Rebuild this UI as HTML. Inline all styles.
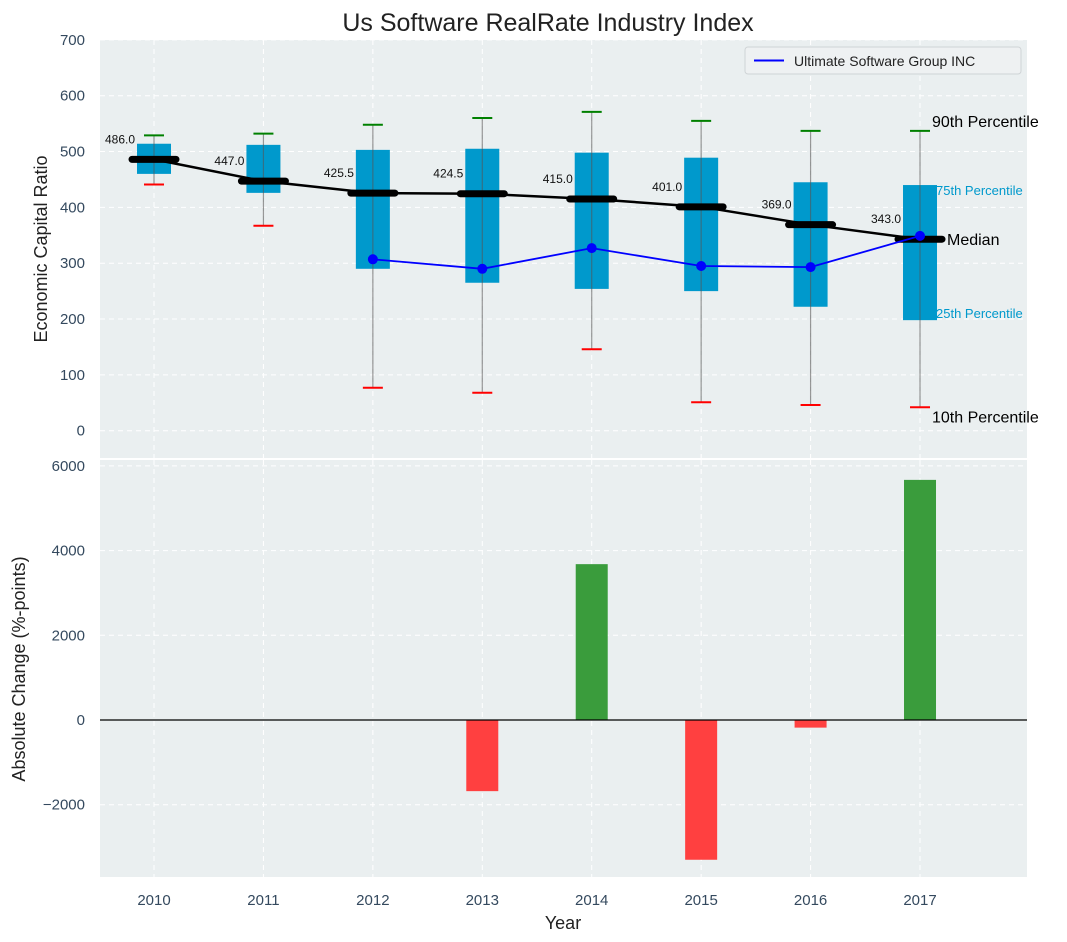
<!DOCTYPE html>
<html><head><meta charset="utf-8"><style>
body{margin:0;background:#fff;}
svg{display:block;font-family:"Liberation Sans","DejaVu Sans",sans-serif;}
</style></head><body>
<svg id="chart" width="1067" height="942" viewBox="0 0 1067 942" xmlns="http://www.w3.org/2000/svg">
<text x="548" y="31" text-anchor="middle" font-size="25" fill="#222">Us Software RealRate Industry Index</text>
<rect x="100" y="40" width="927" height="418" fill="#eaeff0"/>
<rect x="100" y="460" width="927" height="417" fill="#eaeff0"/>
<g id="gtop"></g><g id="gbot"></g>
<text transform="translate(47,249) rotate(-90)" text-anchor="middle" font-size="18" fill="#222">Economic Capital Ratio</text>
<text transform="translate(25,669) rotate(-90)" text-anchor="middle" font-size="18" fill="#222">Absolute Change (%-points)</text>
<text x="563" y="929" text-anchor="middle" font-size="18" fill="#222">Year</text>
<g>
<rect x="745" y="47" width="276" height="27" rx="3" fill="#eef1f2" stroke="#cfd4d6"/>
<line x1="754" y1="60.5" x2="784" y2="60.5" stroke="#0000ff" stroke-width="2"/>
<text x="794" y="66" font-size="14" fill="#222">Ultimate Software Group INC</text>
</g>
</svg>
<script>
const years=[2010,2011,2012,2013,2014,2015,2016,2017];
const p90=[529,532,548,560,571,555,537,537];
const p75=[514,512,503,505,498,489,445,440];
const median=[486,447,425.5,424.5,415,401,369,343];
const p25=[460,426,290,265,254,250,222,198];
const p10=[441,367,77,68,146,51,46,42];
const companyYears=[2012,2013,2014,2015,2016,2017];
const companyVals=[307,290,327,295,293,349];
const changeYears=[2013,2014,2015,2016,2017];
const changeVals=[-1680,3680,-3300,-180,5670];
const topTicks=[0,100,200,300,400,500,600,700];
const botTicks=[-2000,0,2000,4000,6000];

const NS="http://www.w3.org/2000/svg";
const X=y=>154+(y-2010)*109.43;
const YT=v=>430.7-v*0.5583;
const YB=v=>720-v*0.04235;
function mk(p,tag,a,txt){const e=document.createElementNS(NS,tag);for(const k in a)e.setAttribute(k,a[k]);if(txt!==undefined)e.textContent=txt;p.appendChild(e);return e;}
const gTop=document.getElementById('gtop'),gBot=document.getElementById('gbot');
topTicks.forEach(t=>{
 const l=mk(gTop,'line',{x1:100,x2:1027,y1:YT(t),y2:YT(t),stroke:'#fff','stroke-dasharray':'5,4','stroke-width':1});
 
 
 const tx=mk(gTop,'text',{x:85,y:YT(t)+5,'text-anchor':'end','font-size':15,fill:'#34495e'},String(t));
 
 
});
botTicks.forEach(t=>{
 const l=mk(gBot,'line',{x1:100,x2:1027,y1:YB(t),y2:YB(t),stroke:'#fff','stroke-dasharray':'5,4','stroke-width':1});
 
 
 const tx=mk(gBot,'text',{x:85,y:YB(t)+5,'text-anchor':'end','font-size':15,fill:'#34495e'},t<0?'\u2212'+(-t):String(t));
 
 
});
years.forEach(y=>{
 const l=mk(gTop,'line',{x1:X(y),x2:X(y),y1:40,y2:458,stroke:'#fff','stroke-dasharray':'5,4'});
 
 
 const l2=mk(gBot,'line',{x1:X(y),x2:X(y),y1:460,y2:877,stroke:'#fff','stroke-dasharray':'5,4'});
 
 
 const tx=mk(gBot,'text',{x:X(y),y:905,'text-anchor':'middle','font-size':15,fill:'#34495e'},String(y));
 
 
});
years.forEach((y,i)=>{
 const x=X(y);
 const b=mk(gTop,'rect',{x:x-17,y:YT(p75[i]),width:34,height:YT(p25[i])-YT(p75[i]),fill:'#0099cc'});
 
 
 const w=mk(gTop,'line',{x1:x,x2:x,y1:YT(p90[i]),y2:YT(p10[i]),stroke:'#555','stroke-opacity':0.6,'stroke-width':1.2});
 
 
 const c1=mk(gTop,'line',{x1:x-10,x2:x+10,y1:YT(p90[i]),y2:YT(p90[i]),stroke:'#008000','stroke-width':2});
 
 
 const c2=mk(gTop,'line',{x1:x-10,x2:x+10,y1:YT(p10[i]),y2:YT(p10[i]),stroke:'#ff0000','stroke-width':2});
 
 
});
const ml=mk(gTop,'polyline',{points:years.map((y,i)=>X(y)+','+YT(median[i])).join(' '),fill:'none',stroke:'#000','stroke-width':2.5});


years.forEach((y,i)=>{
 const m=mk(gTop,'line',{x1:X(y)-22,x2:X(y)+22,y1:YT(median[i]),y2:YT(median[i]),stroke:'#000','stroke-width':7,'stroke-linecap':'round'});
 
 
 const t=mk(gTop,'text',{x:X(y)-49,y:YT(median[i])-16,'font-size':12,fill:'#111'},median[i].toFixed(1));
 
 
});
const cl=mk(gTop,'polyline',{points:companyYears.map((y,i)=>X(y)+','+YT(companyVals[i])).join(' '),fill:'none',stroke:'#0000ff','stroke-width':1.8});


companyYears.forEach((y,i)=>{
 const c=mk(gTop,'circle',{cx:X(y),cy:YT(companyVals[i]),r:5,fill:'#0000ff'});
 
 
});
const L=years.length-1,ax=X(years[L]);
[['90th Percentile',ax+12,YT(p90[L])-4,16,'#000'],['75th Percentile',ax+16,YT(p75[L])+10,13,'#0099cc'],['Median',ax+27,YT(median[L])+6,16,'#000'],['25th Percentile',ax+16,YT(p25[L])-2,13,'#0099cc'],['10th Percentile',ax+12,YT(p10[L])+15,16,'#000']].forEach(a=>{
 const t=mk(gTop,'text',{x:a[1],y:a[2],'font-size':a[3],fill:a[4]},a[0]);
 
 
});
changeYears.forEach((y,i)=>{
 const v=changeVals[i];
 const r=mk(gBot,'rect',{x:X(y)-16,y:Math.min(YB(v),YB(0)),width:32,height:Math.abs(YB(v)-YB(0)),fill:v>=0?'#3a9c3c':'#ff4040'});
 
 
});
const z=mk(gBot,'line',{x1:100,x2:1027,y1:YB(0),y2:YB(0),stroke:'#000','stroke-width':1.2});


</script>
</body></html>
